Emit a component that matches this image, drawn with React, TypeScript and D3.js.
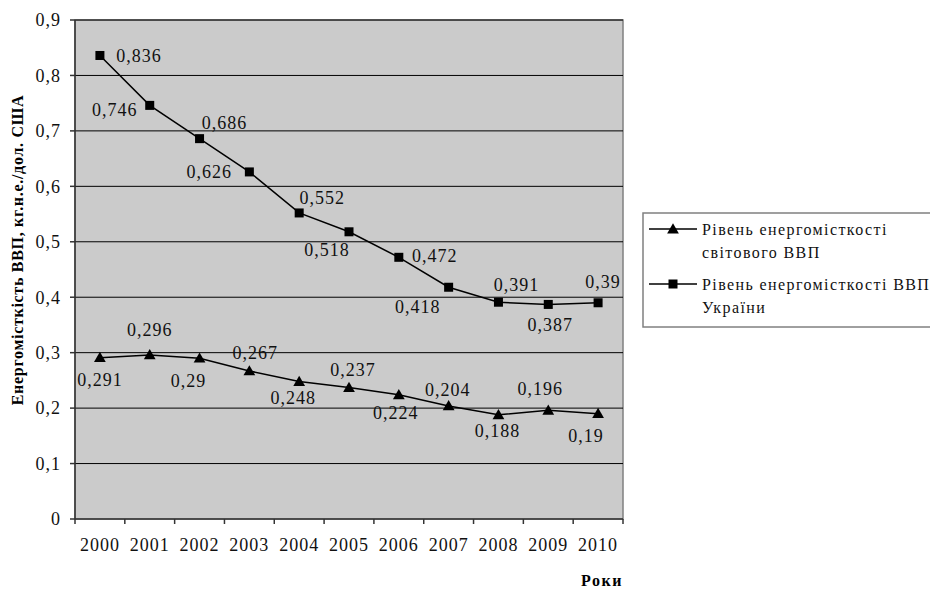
import React from 'react';
import * as d3 from 'd3';

const YEARS = ['2000', '2001', '2002', '2003', '2004', '2005', '2006', '2007', '2008', '2009', '2010'];
const WORLD = [0.291, 0.296, 0.29, 0.267, 0.248, 0.237, 0.224, 0.204, 0.188, 0.196, 0.19];
const UKRAINE = [0.836, 0.746, 0.686, 0.626, 0.552, 0.518, 0.472, 0.418, 0.391, 0.387, 0.39];
const Y_TICKS = [0, 0.1, 0.2, 0.3, 0.4, 0.5, 0.6, 0.7, 0.8, 0.9];
const SERIES_NAMES = [
  ['Рівень енергомісткості', 'світового ВВП'],
  ['Рівень енергомісткості ВВП', 'України'],
];
// label nudges (px) around each point, world / ukraine
const WORLD_LABEL = [[0, 22], [0, -25], [-11, 22], [6, -18], [-6, 16], [4, -18], [-3, 18], [-1, -16], [-1, 16], [-8, -22], [-12, 22]];
const UKR_LABEL = [[39, 0], [-35, 4], [25, -16], [-40, 0], [23, -15], [-22, 18], [36, -2], [-31, 19], [18, -18], [2, 20], [5, -21]];

const W = 930;
const H = 590;
const FONT = "'Liberation Serif', 'Times New Roman', serif";

const Tri: React.FC<{ x: number; y: number }> = ({ x, y }) => (
  <path d={d3.symbol(d3.symbolTriangle, 60)() || ''} transform={`translate(${x},${y + 1})`} fill="#000" />
);
const Sq: React.FC<{ x: number; y: number }> = ({ x, y }) => (
  <rect x={x - 4.5} y={y - 4.5} width={9} height={9} fill="#000" />
);

const fmt = (v: number) => String(v).replace('.', ',');

const App: React.FC = () => {
  const x = d3.scaleBand<string>().domain(YEARS).range([75, 623]);
  const y = d3.scaleLinear().domain([0, 0.9]).range([519, 20]);
  const cx = (d: string) => (x(d) || 0) + x.bandwidth() / 2;

  const line = d3.line<number>()
    .x((_, i) => cx(YEARS[i]))
    .y(v => y(v));

  const txt: React.CSSProperties = { fontFamily: FONT, fontSize: 18, letterSpacing: 1, fill: '#111' };

  return (
    <svg width={W} height={H} style={{ position: 'absolute', left: 0, top: 0, background: '#fff' }}>
      {/* plot area */}
      <rect x={75} y={20} width={548} height={499} fill="#cbcbcb" stroke="#808080" strokeWidth={1.5} />
      {Y_TICKS.filter(t => t > 0).map(t => (
        <line key={t} x1={75} x2={623} y1={y(t)} y2={y(t)} stroke="#000" strokeWidth={1} />
      ))}
      {/* axes */}
      <line x1={75} x2={75} y1={20} y2={519} stroke="#333" strokeWidth={1.5} />
      <line x1={75} x2={623} y1={519} y2={519} stroke="#333" strokeWidth={1.5} />
      {Y_TICKS.map(t => (
        <g key={t}>
          <line x1={70} x2={75} y1={y(t)} y2={y(t)} stroke="#333" strokeWidth={1.5} />
          <text style={txt} x={61} y={y(t)} dy="0.35em" textAnchor="end">{fmt(t)}</text>
        </g>
      ))}
      {YEARS.map(d => (
        <line key={d} x1={x(d) || 0} x2={x(d) || 0} y1={519} y2={524} stroke="#333" strokeWidth={1.5} />
      ))}
      <line x1={623} x2={623} y1={519} y2={524} stroke="#333" strokeWidth={1.5} />
      {YEARS.map(d => (
        <text key={d} style={txt} x={cx(d)} y={545} dy="0.35em" textAnchor="middle">{d}</text>
      ))}

      {/* series */}
      <path d={line(WORLD) || ''} fill="none" stroke="#000" strokeWidth={1.5} />
      <path d={line(UKRAINE) || ''} fill="none" stroke="#000" strokeWidth={1.5} />
      {WORLD.map((v, i) => <Tri key={i} x={cx(YEARS[i])} y={y(v)} />)}
      {UKRAINE.map((v, i) => <Sq key={i} x={cx(YEARS[i])} y={y(v)} />)}
      {WORLD.map((v, i) => (
        <text key={i} style={txt} x={cx(YEARS[i]) + WORLD_LABEL[i][0]} y={y(v) + WORLD_LABEL[i][1]} dy="0.35em" textAnchor="middle">{fmt(v)}</text>
      ))}
      {UKRAINE.map((v, i) => (
        <text key={i} style={txt} x={cx(YEARS[i]) + UKR_LABEL[i][0]} y={y(v) + UKR_LABEL[i][1]} dy="0.35em" textAnchor="middle">{fmt(v)}</text>
      ))}

      {/* axis titles */}
      <text x={17} y={250} transform="rotate(-90 17 250)" textAnchor="middle" dy="0.35em"
        style={{ fontFamily: FONT, fontSize: 16, fontWeight: 'bold', letterSpacing: 0.7 }}>
        Енергомісткість ВВП, кг.н.е./дол. США
      </text>
      <text x={602} y={580} textAnchor="middle" dy="0.35em"
        style={{ fontFamily: FONT, fontSize: 16, fontWeight: 'bold', letterSpacing: 1.5 }}>
        Роки
      </text>

      {/* legend */}
      <rect x={643} y={213} width={300} height={114} fill="#fff" stroke="#808080" strokeWidth={1.5} />
      {SERIES_NAMES.map((lines, i) => {
        const ly = 229 + i * 55;
        return (
          <g key={i}>
            <line x1={649} x2={697} y1={ly} y2={ly} stroke="#000" strokeWidth={1.5} />
            {i === 0 ? <Tri x={673} y={ly} /> : <Sq x={673} y={ly} />}
            {lines.map((s, j) => (
              <text key={j} x={702} y={ly + j * 23} dy="0.35em"
                style={{ fontFamily: FONT, fontSize: 16, letterSpacing: 1.4, fill: '#111' }}>{s}</text>
            ))}
          </g>
        );
      })}
    </svg>
  );
};

export default App;
